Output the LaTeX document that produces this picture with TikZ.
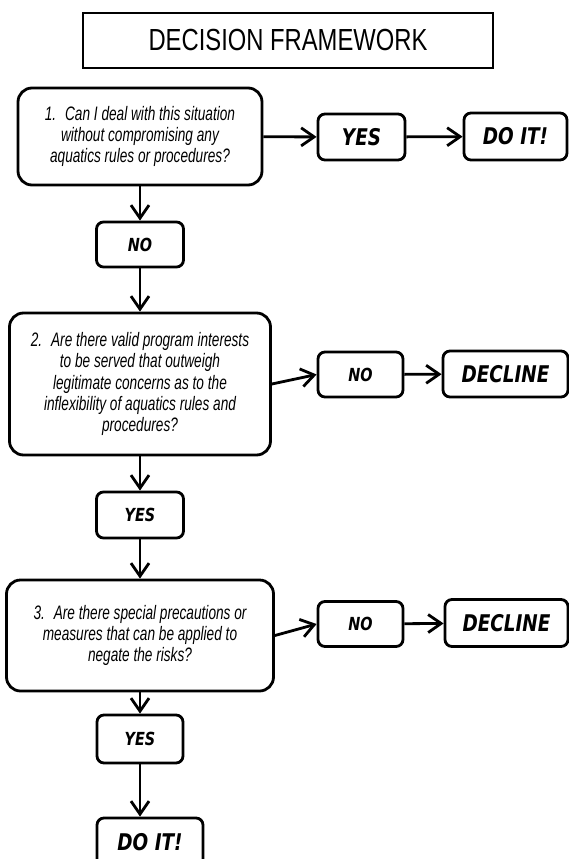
\documentclass[tikz,border=0pt]{standalone}
\usepackage{fontspec}
\usepackage{tikz}
\usetikzlibrary{arrows.meta,positioning}

\newfontfamily\headfont[FakeStretch=0.78]{Liberation Sans}
\newfontfamily\askfont[FakeStretch=0.7]{Liberation Sans}
\newfontfamily\replyfont[FakeStretch=0.8]{DejaVu Sans}

\begin{document}
\begin{tikzpicture}[
    x = 1pt, y = -1pt,
    line width = 2.8pt,
    >={Straight Barb[length=13pt,width=18pt]},
    question/.style = {
      draw,
      rounded corners = 14pt,
      align = center,
      inner sep = 0pt,
      font = \askfont\itshape\fontsize{19.5}{21.3}\selectfont},
    answer/.style = {
      draw,
      rounded corners = 7pt,
      inner sep = 0pt,
      font = \replyfont\bfseries\itshape\fontsize{18}{20}\selectfont},
    bigans/.style = {
      answer,
      font = \replyfont\bfseries\itshape\fontsize{23}{26}\selectfont}
      ]
  \clip (0,0) rectangle (569,859);

  % Heading
  \node[draw, minimum width=410pt, minimum height=55pt,
        font=\headfont\fontsize{30.5}{32}\selectfont] (title) at (288,40.5) {DECISION FRAMEWORK};

  % Step 1
  \node[question, minimum width=244pt, minimum height=97pt] (q1) at (140,136.5)
    {1.~ Can I deal with this situation\\ without compromising any\\ aquatics rules or procedures?};
  \node[bigans, minimum width=87pt, minimum height=46pt] (yes1) at (361.5,137) {YES};
  \node[bigans, minimum width=103pt, minimum height=47pt] (doit1) at (515.5,136.5) {DO IT!};
  \node[answer, minimum width=87pt, minimum height=45pt] (no1) at (140,244.5) {NO};

  % Step 2
  \node[question, minimum width=261pt, minimum height=142pt] (q2) at (140,384)
    {2.~ Are there valid program interests\\ to be served that outweigh\\ legitimate concerns as to the\\ inflexibility of aquatics rules and\\ procedures?};
  \node[answer, minimum width=85pt, minimum height=45pt] (no2) at (360.5,374.5) {NO};
  \node[bigans, minimum width=125pt, minimum height=46pt] (decline2) at (505.5,374) {DECLINE};
  \node[answer, minimum width=87pt, minimum height=46pt] (yes2) at (140,515) {YES};

  % Step 3
  \node[question, minimum width=267pt, minimum height=111pt] (q3) at (140,635.5)
    {3.~ Are there special precautions or\\ measures that can be applied to\\ negate the risks?};
  \node[answer, minimum width=85pt, minimum height=45pt] (no3) at (360.5,624) {NO};
  \node[bigans, minimum width=123pt, minimum height=47pt] (decline3) at (506.5,623) {DECLINE};
  \node[answer, minimum width=86pt, minimum height=48pt] (yes3) at (140,739) {YES};
  \node[bigans, minimum width=106pt, minimum height=48pt] (doit3) at (150,842) {DO IT!};

  % Connectors
  \draw[->] (q1) -- (yes1);
  \draw[->] (yes1) -- (doit1);
  \draw[->] (q1) -- (no1);
  \draw[->] (no1) -- (q2);
  \draw[->] (q2.east) -- (no2.west);
  \draw[->] (no2) -- (decline2);
  \draw[->] (q2) -- (yes2);
  \draw[->] (yes2) -- (q3);
  \draw[->] (q3.east) -- (no3.west);
  \draw[->] (no3) -- (decline3);
  \draw[->] (q3) -- (yes3);
  \draw[->] (yes3) -- (yes3 |- doit3.north);

\end{tikzpicture}
\end{document}
